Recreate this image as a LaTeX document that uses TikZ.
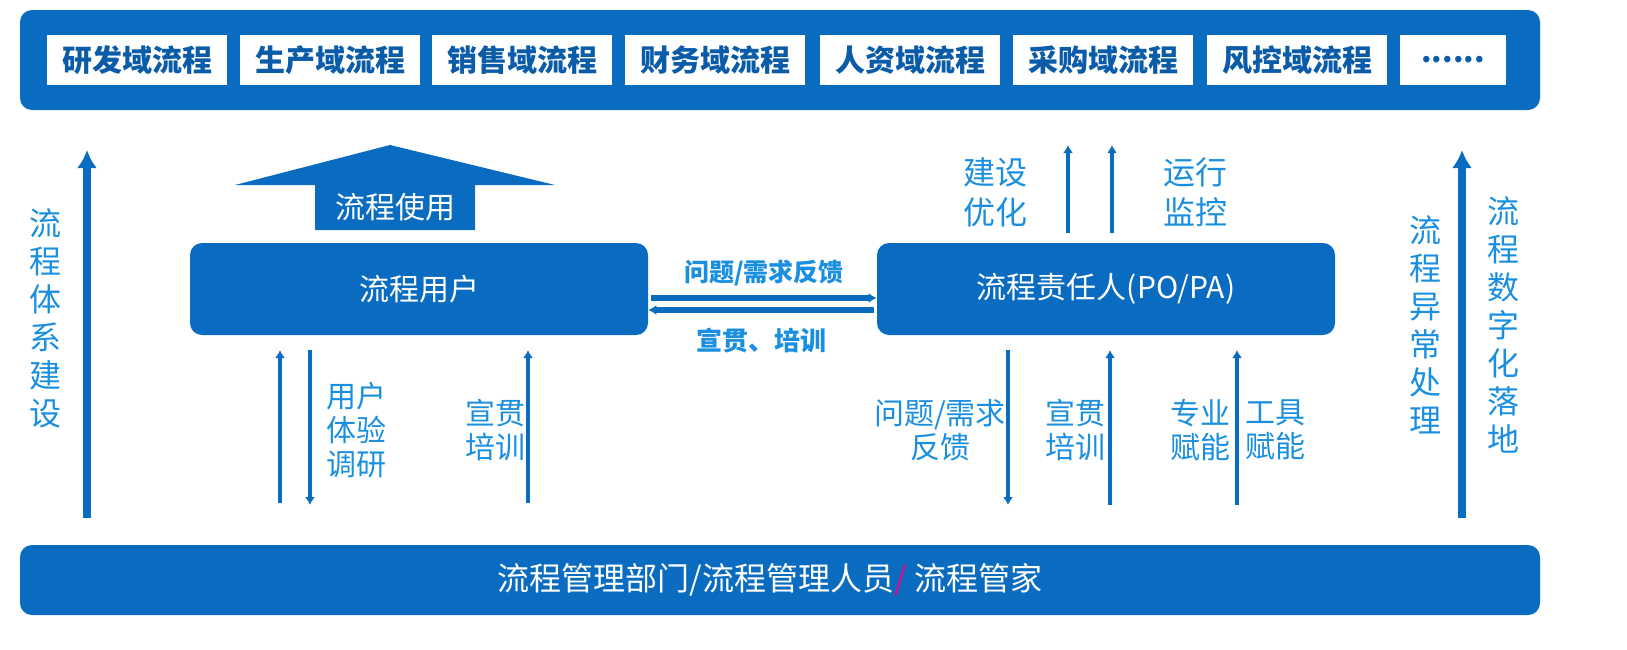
\documentclass[tikz,border=0pt]{standalone}
\usepackage{fontspec}
\setmainfont{Noto Sans CJK SC}
\usetikzlibrary{positioning,arrows.meta,calc}
\definecolor{boxblue}{HTML}{0A6CC0}
\definecolor{textblue}{HTML}{1A8FE0}
\definecolor{darkblue}{HTML}{0A5BA8}
\tikzset{
  bar/.style={fill=boxblue,rounded corners=6pt,draw=none},
  domainbox/.style={fill=white,draw=none,minimum width=90pt,minimum height=25pt,
                 font=\fontsize{15}{16}\selectfont\bfseries,text=darkblue},
  role/.style={fill=boxblue,rounded corners=6pt,minimum width=229pt,minimum height=46pt,
               text=white,font=\fontsize{15}{16}\selectfont},
  lbl/.style={text=textblue,font=\fontsize{15}{17}\selectfont,align=center,inner sep=0},
  vlbl/.style={text=textblue,font=\fontsize{16}{20}\selectfont,align=center,inner sep=0},
  flow/.style={line width=2pt,boxblue,-{Latex[length=4pt,width=5pt]}},
  bigflow/.style={line width=4pt,boxblue,-{Latex[length=9pt,width=10pt]}},
}
\begin{document}
\begin{tikzpicture}[x=0.5pt,y=-0.5pt]
  \useasboundingbox (0,0) rectangle (1627,649);

  % TOP BAR
  \fill[bar] (20,10) rectangle (1540,110);
  \foreach \x/\t [count=\i] in {137/研发域流程,330/生产域流程,522/销售域流程,715/财务域流程,
                               910/人资域流程,1103/采购域流程,1297/风控域流程}{
    \node[domainbox] (d\i) at (\x,60) {\t};
  }
  \node[domainbox,minimum width=53pt] (d8) at (1453,60) {......};

  % BOTTOM BAR
  \fill[bar] (20,545) rectangle (1540,615);
  \node[text=white,font=\fontsize{16}{17}\selectfont] (mgmt) at (770,580)
    {流程管理部门/流程管理人员\textcolor{magenta}{/} 流程管家};

  % ROLES
  \node[role] (user) at (419,289) {流程用户};
  \node[role] (owner) at (1106,289) {流程责任人(PO/PA)};

  % USE ARROW
  \fill[boxblue] (235,185) -- (390,145) -- (555,185) -- (475,185) -- (475,230)
    -- (315,230) -- (315,185) -- cycle;
  \node[text=white,font=\fontsize{15}{16}\selectfont] (use) at (395,207) {流程使用};

  % FEEDBACK
  \draw[flow,line width=3pt] ([yshift=-4.5pt]user.east) ++(3,0) coordinate (fa)
    -- ([yshift=-4.5pt]owner.west) node[midway,above=1pt,text=textblue,
    font=\fontsize{12.5}{14}\selectfont\bfseries] (fb) {问题/需求反馈};
  \draw[flow,line width=3pt] ([yshift=-10.5pt]owner.west) ++(-3,0)
    -- ([yshift=-10.5pt]user.east) node[midway,below=4pt,text=textblue,
    font=\fontsize{13}{14}\selectfont\bfseries] (tr) {宣贯、培训};

  % UP ARROWS
  \draw[flow] (1068,233) coordinate (u1) -- (1068,145);
  \draw[flow] (1112,233) coordinate (u2) -- (1112,145);
  \node[vlbl] (build) at (995,192) {建设\\优化};
  \node[vlbl] (run) at (1195,192) {运行\\监控};

  % SIDE ARROWS
  \draw[bigflow] (87,518) coordinate (l0) -- (87,150);
  \draw[bigflow] (1462,518) coordinate (r0) -- (1462,150);
  \node[vlbl,font=\fontsize{16}{19}\selectfont] (sys) at (45,318) {流\\程\\体\\系\\建\\设};
  \node[vlbl,font=\fontsize{16}{19}\selectfont] (exc) at (1425,325) {流\\程\\异\\常\\处\\理};
  \node[vlbl,font=\fontsize{16}{19}\selectfont] (dig) at (1503,325) {流\\程\\数\\字\\化\\落\\地};

  % USER ARROWS
  \draw[flow] (280,503) -- (280,350);
  \draw[flow] (310,350) -- (310,505);
  \draw[flow] (528,503) -- (528,350);
  \node[lbl] (ux) at (356,430) {用户\\体验\\调研};
  \node[lbl] (ut) at (495,430) {宣贯\\培训};

  % OWNER ARROWS
  \draw[flow] (1008,350) -- (1008,505);
  \draw[flow] (1110,505) -- (1110,350);
  \draw[flow] (1237,505) -- (1237,350);
  \node[lbl] (of) at (940,430) {问题/需求\\反馈};
  \node[lbl] (ot) at (1075,430) {宣贯\\培训};
  \node[lbl] (op) at (1200,430) {专业\\赋能};
  \node[lbl] (tl) at (1275,430) {工具\\赋能};
\end{tikzpicture}
\end{document}
